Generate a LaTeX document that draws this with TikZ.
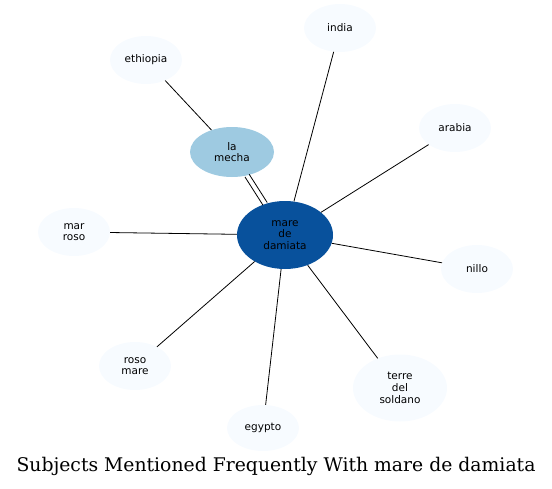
\documentclass[tikz,border=0pt]{standalone}
\usepackage{fontspec}
\newfontfamily\labelfont{DejaVu Sans}
\newfontfamily\titlefont{DejaVu Serif}
\usetikzlibrary{positioning,shapes.geometric}
\definecolor{hubblue}{HTML}{08519C}
\definecolor{mechablue}{HTML}{9ECAE1}
\definecolor{paleblue}{HTML}{F7FBFF}

\begin{document}
\begin{tikzpicture}[
  x=1pt,y=-1pt,
  subj/.style={ellipse,fill=paleblue,draw=none,inner sep=0pt,minimum width=72pt,minimum height=48pt,
               align=center,font=\labelfont\fontsize{10.5}{11.7}\selectfont},
  hub/.style={subj,fill=hubblue,minimum width=96pt,minimum height=68pt},
  mid/.style={subj,fill=mechablue,minimum width=84pt,minimum height=50pt},
  link/.style={line width=0.8pt,black}
]
\useasboundingbox (0,0) rectangle (552,488);

% center and second ring
\node[hub] (damiata) at (285,235) {mare\\de\\damiata};
\node[mid] (mecha) at (232,152) {la\\mecha};

% outer subjects
\node[subj] (ethiopia) at (146,60) {ethiopia};
\node[subj] (india) at (340,28) {india};
\node[subj] (arabia) at (455,128) {arabia};
\node[subj] (marroso) at (74,232) {mar\\roso};
\node[subj] (nillo) at (477,269) {nillo};
\node[subj] (rosomare) at (135,366) {roso\\mare};
\node[subj,minimum width=94pt,minimum height=67pt] (terre) at (400,388) {terre\\del\\soldano};
\node[subj,minimum height=46pt] (egypto) at (263,428) {egypto};

% links
\draw[link] (ethiopia) -- (mecha);
\draw[link,transform canvas={shift={(2.1pt,1.35pt)}}] (mecha) -- (damiata);
\draw[link,transform canvas={shift={(-2.1pt,-1.35pt)}}] (mecha) -- (damiata);
\draw[link] (damiata) -- (india);
\draw[link] (damiata) -- (arabia);
\draw[link] (damiata) -- (nillo);
\draw[link] (damiata) -- (terre);
\draw[link] (damiata) -- (egypto);
\draw[link] (damiata) -- (rosomare);
\draw[link] (damiata) -- (marroso);

% title
\node[font=\titlefont\fontsize{18.8}{22}\selectfont] (title) at (276,466) {Subjects Mentioned Frequently With mare de damiata};
\end{tikzpicture}
\end{document}
